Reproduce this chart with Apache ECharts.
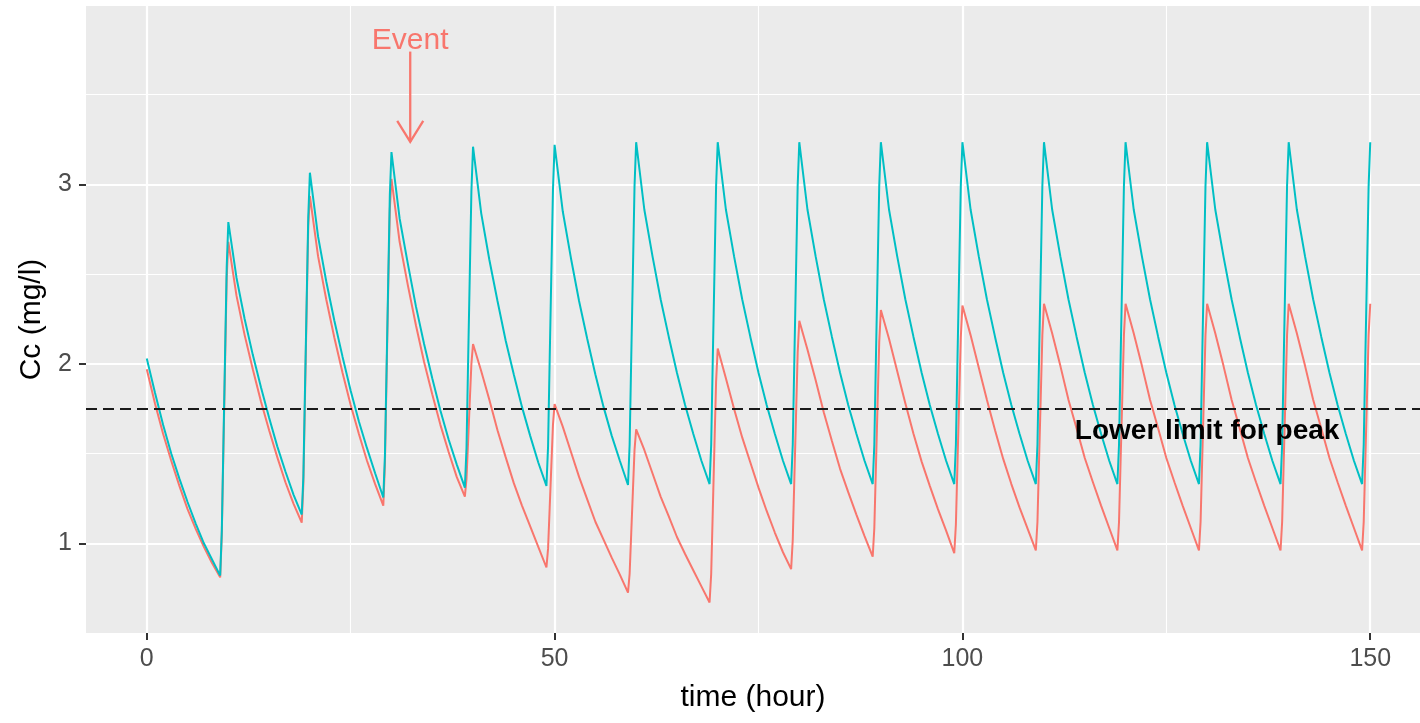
<!DOCTYPE html>
<html>
<head>
<meta charset="utf-8">
<title>Cc over time</title>
<script src="https://cdn.jsdelivr.net/npm/echarts@6/dist/echarts.min.js"></script>
<style>
  html, body { margin: 0; padding: 0; background: #ffffff; }
  #chart { width: 1420px; height: 723px; }
</style>
</head>
<body>
<div id="chart"></div>
<script>
// Sampling times (hour): hourly during each dosing interval, finer during each 1 h infusion
const hours = [
  0, 1, 2, 3, 4, 5, 6, 7, 8, 9, 9.2, 9.4, 9.6, 9.8,
  10, 11, 12, 13, 14, 15, 16, 17, 18, 19, 19.2, 19.4, 19.6, 19.8,
  20, 21, 22, 23, 24, 25, 26, 27, 28, 29, 29.2, 29.4, 29.6, 29.8,
  30, 31, 32, 33, 34, 35, 36, 37, 38, 39, 39.2, 39.4, 39.6, 39.8,
  40, 41, 42, 43, 44, 45, 46, 47, 48, 49, 49.2, 49.4, 49.6, 49.8,
  50, 51, 52, 53, 54, 55, 56, 57, 58, 59, 59.2, 59.4, 59.6, 59.8,
  60, 61, 62, 63, 64, 65, 66, 67, 68, 69, 69.2, 69.4, 69.6, 69.8,
  70, 71, 72, 73, 74, 75, 76, 77, 78, 79, 79.2, 79.4, 79.6, 79.8,
  80, 81, 82, 83, 84, 85, 86, 87, 88, 89, 89.2, 89.4, 89.6, 89.8,
  90, 91, 92, 93, 94, 95, 96, 97, 98, 99, 99.2, 99.4, 99.6, 99.8,
  100, 101, 102, 103, 104, 105, 106, 107, 108, 109, 109.2, 109.4, 109.6, 109.8,
  110, 111, 112, 113, 114, 115, 116, 117, 118, 119, 119.2, 119.4, 119.6, 119.8,
  120, 121, 122, 123, 124, 125, 126, 127, 128, 129, 129.2, 129.4, 129.6, 129.8,
  130, 131, 132, 133, 134, 135, 136, 137, 138, 139, 139.2, 139.4, 139.6, 139.8,
  140, 141, 142, 143, 144, 145, 146, 147, 148, 149, 149.2, 149.4, 149.6, 149.8,
  150
];

// Cc (mg/l), regimen with the event (doses changed after it)
const concEvent = [
  1.97, 1.78, 1.61, 1.46, 1.32, 1.19, 1.08, 0.98, 0.89, 0.81, 1.05, 1.53, 2.00, 2.48,
  2.68, 2.38, 2.16, 1.97, 1.79, 1.63, 1.48, 1.34, 1.22, 1.115, 1.33, 1.81, 2.30, 2.77,
  2.935, 2.60, 2.36, 2.145, 1.95, 1.77, 1.61, 1.46, 1.33, 1.21, 1.44, 1.93, 2.41, 2.86,
  3.03, 2.68, 2.44, 2.215, 2.01, 1.83, 1.66, 1.51, 1.37, 1.26, 1.36, 1.57, 1.79, 2.00,
  2.11, 1.96, 1.80, 1.63, 1.48, 1.335, 1.21, 1.095, 0.98, 0.865, 0.97, 1.20, 1.43, 1.66,
  1.775, 1.65, 1.51, 1.37, 1.245, 1.12, 1.02, 0.92, 0.825, 0.725, 0.83, 1.06, 1.29, 1.52,
  1.635, 1.52, 1.39, 1.26, 1.15, 1.035, 0.94, 0.85, 0.76, 0.67, 0.83, 1.19, 1.55, 1.90,
  2.085, 1.92, 1.75, 1.59, 1.45, 1.31, 1.18, 1.06, 0.95, 0.856, 1.02, 1.37, 1.71, 2.06,
  2.24, 2.08, 1.91, 1.73, 1.57, 1.415, 1.285, 1.16, 1.04, 0.925, 1.085, 1.43, 1.78, 2.12,
  2.30, 2.14, 1.96, 1.78, 1.61, 1.455, 1.32, 1.19, 1.07, 0.945, 1.105, 1.455, 1.80, 2.145,
  2.325, 2.16, 1.98, 1.80, 1.63, 1.47, 1.33, 1.20, 1.08, 0.96, 1.12, 1.47, 1.81, 2.16,
  2.335, 2.17, 1.99, 1.80, 1.64, 1.475, 1.34, 1.21, 1.085, 0.96, 1.12, 1.47, 1.81, 2.16,
  2.335, 2.17, 1.99, 1.80, 1.64, 1.475, 1.34, 1.21, 1.085, 0.96, 1.12, 1.47, 1.81, 2.16,
  2.335, 2.17, 1.99, 1.80, 1.64, 1.475, 1.34, 1.21, 1.085, 0.96, 1.12, 1.47, 1.81, 2.16,
  2.335, 2.17, 1.99, 1.80, 1.64, 1.475, 1.34, 1.21, 1.085, 0.96, 1.12, 1.47, 1.81, 2.16,
  2.335
];

// Cc (mg/l), unchanged regimen
const concNoEvent = [
  2.03, 1.84, 1.66, 1.50, 1.36, 1.23, 1.11, 1.00, 0.91, 0.82, 1.07, 1.56, 2.05, 2.54,
  2.79, 2.48, 2.25, 2.05, 1.87, 1.70, 1.54, 1.40, 1.27, 1.16, 1.37, 1.86, 2.34, 2.82,
  3.065, 2.71, 2.46, 2.24, 2.04, 1.85, 1.68, 1.53, 1.39, 1.255, 1.49, 1.97, 2.46, 2.94,
  3.18, 2.81, 2.56, 2.32, 2.11, 1.92, 1.74, 1.58, 1.44, 1.31, 1.53, 2.02, 2.49, 2.96,
  3.21, 2.84, 2.58, 2.35, 2.13, 1.94, 1.76, 1.60, 1.45, 1.32, 1.54, 2.03, 2.50, 2.97,
  3.22, 2.85, 2.59, 2.35, 2.14, 1.94, 1.76, 1.60, 1.46, 1.325, 1.55, 2.04, 2.51, 2.99,
  3.235, 2.86, 2.60, 2.36, 2.15, 1.95, 1.77, 1.61, 1.46, 1.33, 1.55, 2.04, 2.51, 2.99,
  3.235, 2.86, 2.60, 2.36, 2.15, 1.95, 1.77, 1.61, 1.46, 1.33, 1.55, 2.04, 2.51, 2.99,
  3.235, 2.86, 2.60, 2.36, 2.15, 1.95, 1.77, 1.61, 1.46, 1.33, 1.55, 2.04, 2.51, 2.99,
  3.235, 2.86, 2.60, 2.36, 2.15, 1.95, 1.77, 1.61, 1.46, 1.33, 1.55, 2.04, 2.51, 2.99,
  3.235, 2.86, 2.60, 2.36, 2.15, 1.95, 1.77, 1.61, 1.46, 1.33, 1.55, 2.04, 2.51, 2.99,
  3.235, 2.86, 2.60, 2.36, 2.15, 1.95, 1.77, 1.61, 1.46, 1.33, 1.55, 2.04, 2.51, 2.99,
  3.235, 2.86, 2.60, 2.36, 2.15, 1.95, 1.77, 1.61, 1.46, 1.33, 1.55, 2.04, 2.51, 2.99,
  3.235, 2.86, 2.60, 2.36, 2.15, 1.95, 1.77, 1.61, 1.46, 1.33, 1.55, 2.04, 2.51, 2.99,
  3.235, 2.86, 2.60, 2.36, 2.15, 1.95, 1.77, 1.61, 1.46, 1.33, 1.55, 2.04, 2.51, 2.99,
  3.235
];

// Axis breaks
const xBreaks = [0, 50, 100, 150];
const xMinorBreaks = [25, 75, 125];
const yBreaks = [1, 2, 3];
const yMinorBreaks = [1.5, 2.5, 3.5];

// Reference level and annotations (data units)
const peakLimit = 1.75;
const peakLimitLabel = 'Lower limit for peak';
const peakLimitLabelPos = [130, 1.625];
const eventLabel = 'Event';
const eventTime = 32.3;
const eventLabelY = 3.80;
const eventArrowFrom = 3.74;
const eventArrowTo = 3.237;

const RED = '#F8766D';
const CYAN = '#00BFC4';
const FONT = '"Liberation Sans", Arial, sans-serif';

const xRange = { min: -7.45, max: 156.1 };
const yRange = { min: 0.5, max: 3.994 };

const pairs = (ys) => hours.map((h, i) => [h, ys[i]]);

const chart = echarts.init(document.getElementById('chart'), null, { renderer: 'canvas' });

chart.setOption({
  animation: false,
  backgroundColor: '#ffffff',
  grid: {
    left: 86, right: 0, top: 6, bottom: 90,
    show: true, backgroundColor: '#EBEBEB', borderWidth: 0
  },
  xAxis: [
    {
      type: 'value', min: xRange.min, max: xRange.max,
      axisLine: { show: false, onZero: false },
      axisTick: { show: true, customValues: xBreaks, length: 7, lineStyle: { color: '#333333', width: 2 } },
      axisLabel: { customValues: xBreaks, color: '#4D4D4D', fontSize: 25, fontFamily: FONT, margin: 14 },
      splitLine: { show: true, lineStyle: { color: '#ffffff', width: 2.2 } },
      name: 'time (hour)', nameLocation: 'middle', nameGap: 50,
      nameTextStyle: { color: '#000000', fontSize: 30, fontFamily: FONT }
    },
    {
      type: 'value', min: xRange.min, max: xRange.max, position: 'bottom',
      axisLine: { show: false, onZero: false },
      axisTick: { show: false, customValues: xMinorBreaks },
      axisLabel: { show: false, customValues: xMinorBreaks },
      splitLine: { show: true, lineStyle: { color: '#ffffff', width: 1.1 } }
    }
  ],
  yAxis: [
    {
      type: 'value', min: yRange.min, max: yRange.max,
      axisLine: { show: false, onZero: false },
      axisTick: { show: true, customValues: yBreaks, length: 7, lineStyle: { color: '#333333', width: 2 } },
      axisLabel: { customValues: yBreaks, color: '#4D4D4D', fontSize: 25, fontFamily: FONT, margin: 14 },
      splitLine: { show: true, lineStyle: { color: '#ffffff', width: 2.2 } },
      name: 'Cc (mg/l)', nameLocation: 'middle', nameGap: 38,
      nameTextStyle: { color: '#000000', fontSize: 30, fontFamily: FONT }
    },
    {
      type: 'value', min: yRange.min, max: yRange.max, position: 'left',
      axisLine: { show: false, onZero: false },
      axisTick: { show: false, customValues: yMinorBreaks },
      axisLabel: { show: false, customValues: yMinorBreaks },
      splitLine: { show: true, lineStyle: { color: '#ffffff', width: 1.1 } }
    }
  ],
  series: [
    {
      name: 'event', type: 'line', data: pairs(concEvent),
      showSymbol: false, symbol: 'none',
      lineStyle: { color: RED, width: 2 }, z: 3
    },
    {
      name: 'no event', type: 'line', data: pairs(concNoEvent),
      showSymbol: false, symbol: 'none',
      lineStyle: { color: CYAN, width: 2 }, z: 4,
      markLine: {
        silent: true, symbol: 'none', label: { show: false },
        lineStyle: { color: '#1a1a1a', width: 2, type: [11, 6] },
        data: [{ yAxis: peakLimit }]
      }
    },
    {
      name: 'annotations', type: 'custom', z: 6, clip: false,
      data: [[eventTime, eventLabelY]],
      renderItem: function (params, api) {
        const label = api.coord([eventTime, eventLabelY]);
        const from = api.coord([eventTime, eventArrowFrom]);
        const tip = api.coord([eventTime, eventArrowTo]);
        const lim = api.coord(peakLimitLabelPos);
        return {
          type: 'group',
          children: [
            {
              type: 'text',
              style: { x: label[0], y: label[1], text: eventLabel, fill: RED,
                       font: '30px ' + FONT, align: 'center', verticalAlign: 'middle' }
            },
            {
              type: 'line',
              shape: { x1: from[0], y1: from[1], x2: tip[0], y2: tip[1] },
              style: { stroke: RED, lineWidth: 2.3 }
            },
            {
              type: 'polyline',
              shape: { points: [[tip[0] - 13, tip[1] - 21], [tip[0], tip[1]], [tip[0] + 13, tip[1] - 21]] },
              style: { stroke: RED, lineWidth: 2.3, fill: null }
            },
            {
              type: 'text',
              style: { x: lim[0], y: lim[1], text: peakLimitLabel, fill: '#000000',
                       font: 'bold 28px ' + FONT, align: 'center', verticalAlign: 'middle' }
            }
          ]
        };
      }
    }
  ]
});
</script>
</body>
</html>
